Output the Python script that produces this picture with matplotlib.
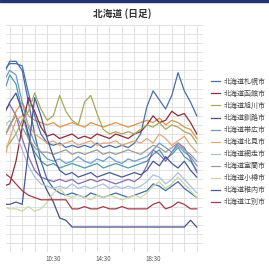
import pandas as pd
import matplotlib
matplotlib.use("Agg")
import matplotlib.pyplot as plt
import matplotlib.dates as mdates
from matplotlib.patches import Rectangle
from matplotlib.ticker import FixedLocator

plt.rcParams['font.family'] = ['Noto Sans CJK JP', 'DejaVu Sans']

# time of day (30 min steps)
times = ["06:30", "07:00", "07:30", "08:00", "08:30", "09:00", "09:30", "10:00",
         "10:30", "11:00", "11:30", "12:00", "12:30", "13:00", "13:30", "14:00",
         "14:30", "15:00", "15:30", "16:00", "16:30", "17:00", "17:30", "18:00",
         "18:30", "19:00", "19:30", "20:00", "20:30", "21:00", "21:30", "22:00"]
tick_times = ["10:30", "14:30", "18:30"]

sapporo   = [80, 83, 83, 82, 70, 60, 52, 48, 47, 48, 46, 47, 46, 47, 46, 48, 46, 47, 46, 47, 46, 48, 52, 64, 71, 67, 63, 69, 79, 71, 66, 60]
hakodate  = [29, 30, 40, 55, 68, 62, 55, 51, 52, 50, 51, 52, 50, 51, 50, 52, 51, 50, 52, 51, 50, 52, 53, 56, 60, 57, 58, 62, 60, 61, 57, 52]
asahikawa = [45, 48, 52, 58, 62, 70, 63, 58, 60, 69, 62, 58, 56, 66, 69, 61, 54, 52, 53, 52, 53, 52, 54, 56, 55, 57, 54, 56, 55, 53, 52, 48]
kushiro   = [60, 66, 70, 62, 52, 42, 33, 27, 22, 15, 14, 11, 11, 11, 11, 11, 11, 11, 11, 11, 11, 11, 11, 11, 11, 11, 11, 11, 11, 11, 14, 11]
obihiro   = [75, 80, 78, 66, 55, 48, 44, 41, 40, 41, 39, 40, 42, 40, 39, 41, 40, 42, 40, 39, 41, 40, 41, 42, 45, 48, 46, 44, 47, 44, 42, 38]
kitami    = [40, 50, 58, 60, 56, 52, 50, 48, 49, 47, 48, 49, 47, 48, 49, 47, 48, 48, 49, 47, 48, 49, 48, 50, 48, 52, 50, 47, 49, 51, 47, 44]
abashiri  = [55, 58, 52, 45, 38, 33, 30, 29, 28, 29, 28, 30, 28, 29, 28, 29, 30, 28, 29, 28, 29, 28, 29, 31, 34, 33, 30, 32, 35, 32, 29, 26]
muroran   = [50, 56, 60, 55, 50, 46, 44, 44, 43, 44, 45, 43, 44, 43, 44, 45, 43, 44, 43, 44, 45, 44, 43, 45, 47, 46, 44, 46, 48, 45, 43, 40]
tomakomai = [20, 19, 19, 18, 20, 18, 19, 22, 26, 28, 25, 24, 25, 24, 23, 25, 24, 25, 24, 23, 24, 25, 24, 26, 29, 31, 28, 30, 33, 30, 27, 24]
wakkanai  = [21, 21, 22, 21, 45, 68, 60, 50, 42, 36, 34, 35, 33, 34, 35, 33, 34, 35, 34, 33, 34, 35, 34, 36, 40, 38, 42, 39, 37, 40, 36, 33]
otaru     = [35, 33, 30, 27, 25, 24, 23, 23, 23, 23, 23, 19, 19, 20, 19, 19, 20, 19, 19, 20, 19, 19, 19, 19, 21, 22, 19, 20, 22, 21, 19, 19]
# series beyond the visible legend page
ebetsu    = [70, 78, 74, 62, 50, 44, 40, 38, 39, 37, 38, 39, 38, 37, 38, 39, 37, 38, 39, 38, 37, 38, 39, 40, 43, 45, 41, 43, 46, 42, 40, 36]
chitose   = [62, 65, 60, 50, 42, 36, 33, 32, 31, 32, 31, 32, 30, 31, 32, 31, 32, 31, 30, 31, 32, 31, 33, 38, 45, 43, 40, 44, 48, 46, 41, 35]
iwamizawa = [50, 55, 62, 66, 60, 58, 57, 56, 57, 55, 56, 57, 56, 55, 57, 56, 55, 56, 57, 56, 55, 56, 57, 58, 57, 59, 56, 58, 57, 55, 54, 50]
nemuro    = [78, 84, 84, 80, 66, 52, 40, 32, 28, 26, 25, 26, 25, 24, 26, 25, 24, 25, 26, 25, 24, 25, 26, 27, 30, 29, 27, 29, 31, 28, 26, 24]

labels = ["北海道札幌市", "北海道函館市", "北海道旭川市", "北海道釧路市",
          "北海道帯広市", "北海道北見市", "北海道網走市", "北海道室蘭市",
          "北海道小樽市", "北海道稚内市", "北海道江別市"]
series = [sapporo, hakodate, asahikawa, kushiro, obihiro, kitami, abashiri, muroran,
          tomakomai, wakkanai, otaru]
colors = ["#4a6fa5", "#8c2d3c", "#a7a85a", "#4b4f86", "#6c9bc9", "#e3a57a", "#a9c0df",
          "#9a9a9a", "#c9d9a6", "#465a96", "#a23b4b"]
extra = [ebetsu, chitose, iwamizawa, nemuro]
extra_colors = ["#3d8fa0", "#7b5ea7", "#d9893a", "#2f5d9e"]

day = "2024-01-01 "
x = pd.to_datetime([day + t for t in times])

fig = plt.figure(figsize=(2.69, 2.64), dpi=100)
ax = fig.add_axes([6 / 269, 1 - 252 / 264, 197 / 269, 227 / 264])

for vals, c in zip(extra, extra_colors):
    ax.plot(x, vals, color=c, lw=0.9, alpha=0.9)
handles = []
for vals, c, lab in zip(series, colors, labels):
    h, = ax.plot(x, vals, color=c, lw=0.9, label=lab)
    handles.append(h)

ax.set_xlim(pd.Timestamp(day + "06:42"), pd.Timestamp(day + "22:30"))
ax.set_ylim(0, 100)

ax.xaxis.set_major_locator(FixedLocator(mdates.date2num(pd.to_datetime([day + t for t in tick_times]))))
ax.xaxis.set_major_formatter(mdates.DateFormatter("%H:%M"))
ax.xaxis.set_minor_locator(mdates.HourLocator())
ax.set_yticks(range(0, 101, 4))
ax.set_yticklabels([])
ax.tick_params(axis='both', which='both', length=0, labelsize=4.5, colors="#555555", pad=2)
ax.grid(True, which='minor', axis='x', color="#dcdcdc", lw=0.6)
ax.grid(True, which='major', axis='y', color="#dcdcdc", lw=0.6)
ax.set_axisbelow(True)
for s in ax.spines.values():
    s.set_visible(False)

fig.text(122 / 269, 1 - 14 / 264, "北海道 (日足)", ha='center', va='center',
         fontsize=7, fontweight='bold', color="#333333")

leg = fig.legend(handles=handles, loc='center left', bbox_to_anchor=(211 / 269, 1 - 142 / 264),
                 frameon=False, fontsize=5, labelspacing=0.58, handlelength=1.3,
                 handletextpad=0.5, borderaxespad=0, borderpad=0)
for t in leg.get_texts():
    t.set_color("#444444")

fig.patches.append(Rectangle((0, 1 - 2 / 264), 1, 2 / 264, transform=fig.transFigure,
                             color="#23346e", zorder=5))

fig.savefig("out.png", dpi=100)
